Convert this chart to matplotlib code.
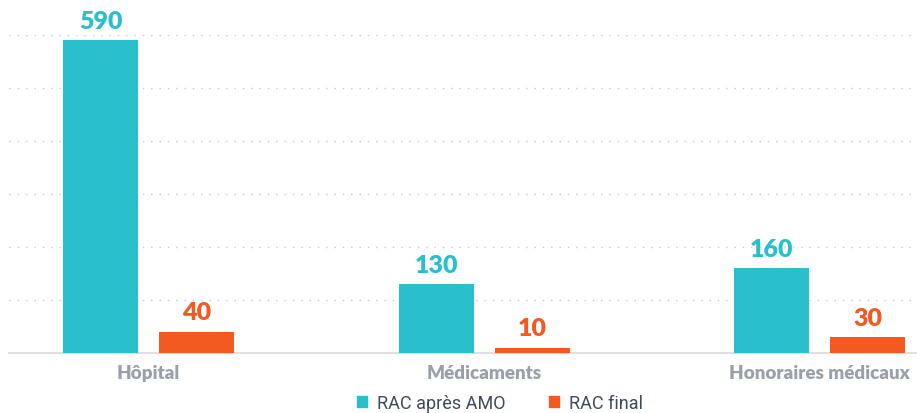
import numpy as np
import matplotlib.pyplot as plt
from matplotlib.patches import Patch

categories = ["Hôpital", "Médicaments", "Honoraires médicaux"]
rac_apres_amo = [590, 130, 160]
rac_final = [40, 10, 30]
series_names = ["RAC après AMO", "RAC final"]

cyan = "#29BFCC"
orange = "#F25A22"
grey = "#9AA0AA"

fig = plt.figure(figsize=(9.17, 4.14), dpi=100)
ax = fig.add_axes([9 / 917, 60 / 414, 908 / 917, 318 / 414])

x = np.arange(len(categories))
w = 0.2235
off = 0.143
b1 = ax.bar(x - off, rac_apres_amo, w, color=cyan, zorder=3)
b2 = ax.bar(x + off, rac_final, w, color=orange, zorder=3)

for bars, vals, col in [(b1, rac_apres_amo, cyan), (b2, rac_final, orange)]:
    for r, v in zip(bars, vals):
        ax.annotate(str(v), (r.get_x() + r.get_width() / 2, v),
                    xytext=(0, 6), textcoords="offset points",
                    ha="center", va="bottom", color=col,
                    fontsize=18, fontweight="heavy", family="Lato")

ax.set_xlim(-0.416, 2.29)
ax.set_ylim(0, 600)
ax.set_yticks(np.arange(100, 601, 100))
ax.yaxis.grid(True, color="#c8c8c8", linestyle=(0, (1, 5)), linewidth=1)
ax.set_axisbelow(True)
ax.tick_params(axis="y", left=False, labelleft=False)
ax.tick_params(axis="x", length=0, pad=8)
ax.set_xticks(x)
ax.set_xticklabels(categories, color=grey, fontsize=13.5, fontweight="heavy",
                   family="Lato")
for s in ["top", "right", "left"]:
    ax.spines[s].set_visible(False)
ax.spines["bottom"].set_color("#d9d9d9")
ax.spines["bottom"].set_linewidth(1.2)

handles = [Patch(color=cyan), Patch(color=orange)]
fig.legend(handles, series_names, loc="center", bbox_to_anchor=(0.545, 0.025),
           ncol=2, frameon=False, handlelength=0.55,
           handleheight=0.55, handletextpad=0.55, columnspacing=2.4,
           labelcolor="#3d4b5c", prop={"family": "Roboto", "size": 13})

fig.savefig("out.png", dpi=100)
